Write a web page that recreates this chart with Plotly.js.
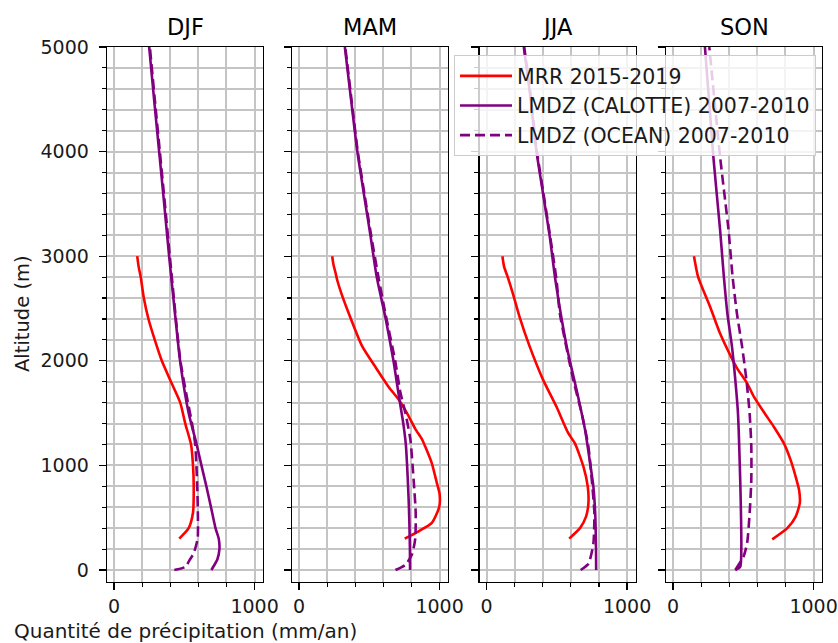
<!DOCTYPE html>
<html>
<head>
<meta charset="utf-8">
<script src="https://cdn.plot.ly/plotly-3.0.1.min.js"></script>
<style>html,body{margin:0;padding:0;background:#fff;}#chart{width:838px;height:643px;}</style>
</head>
<body>
<div id="chart"></div>
<script>
// ---------- data ----------
const seasons = ['DJF', 'MAM', 'JJA', 'SON'];
const seriesNames = ['MRR 2015-2019', 'LMDZ (CALOTTE) 2007-2010', 'LMDZ (OCEAN) 2007-2010'];
const xTickVals = [0, 1000];
const yTickVals = [0, 1000, 2000, 3000, 4000, 5000];

// MRR observations (altitude m, precipitation mm/an)
const mrrAltDJF = [300, 400, 550, 800, 1000, 1200, 1400, 1600, 1800, 2000, 2200, 2400, 2600, 2800, 2900, 3000];
const mrrValDJF = [464, 531, 562, 567, 562, 548, 507, 471, 405, 340, 290, 245, 212, 190, 175, 165];
const mrrAltMAM = [300, 370, 450, 600, 730, 830, 1020, 1180, 1250, 1350, 1500, 1630, 1750, 1940, 2140, 2450, 2650, 2770, 2840, 2920, 3000];
const mrrValMAM = [752, 851, 945, 997, 1000, 981, 945, 898, 875, 827, 768, 709, 638, 544, 449, 355, 300, 272, 260, 245, 236];
const mrrAltJJA = [300, 400, 510, 640, 800, 990, 1210, 1310, 1560, 1820, 2140, 2420, 2650, 2800, 2900, 3000];
const mrrValJJA = [588, 665, 708, 725, 720, 689, 629, 581, 498, 402, 306, 235, 186, 151, 125, 113];
const mrrAltSON = [293, 400, 510, 640, 765, 890, 1050, 1210, 1370, 1510, 1660, 1785, 1930, 2040, 2260, 2520, 2800, 3000];
const mrrValSON = [706, 813, 873, 902, 897, 873, 837, 789, 717, 646, 574, 527, 455, 412, 335, 263, 179, 149];

// LMDZ (CALOTTE)
const calAltDJF = [0, 50, 100, 200, 300, 400, 600, 800, 1000, 1200, 1500, 2000, 2500, 3000, 3500, 4000, 4500, 5000];
const calValDJF = [693, 715, 735, 750, 745, 722, 690, 657, 622, 588, 531, 470, 430, 392, 357, 321, 285, 250];
const calAltMAM = [0, 200, 400, 600, 800, 1000, 1200, 1400, 1600, 1800, 2000, 2400, 2800, 3200, 3600, 4000, 4500, 5000];
const calValMAM = [790, 789, 786, 782, 776, 769, 760, 742, 718, 695, 672, 617, 553, 508, 461, 415, 370, 326];
const calAltJJA = [0, 200, 550, 800, 1020, 1340, 1720, 2140, 2772, 3187, 3600, 4015, 4590, 5000];
const calValJJA = [780, 779, 773, 760, 737, 701, 641, 570, 490, 450, 402, 354, 306, 265];
const calAltSON = [0, 30, 220, 500, 860, 1500, 1820, 2140, 2450, 2800, 3250, 3950, 5000];
const calValSON = [443, 478, 486, 484, 478, 462, 443, 419, 387, 362, 335, 287, 227];

// LMDZ (OCEAN)
const ocnAltDJF = [0, 30, 100, 160, 300, 500, 800, 1000, 1200, 1400, 1650, 2000, 2500, 3000, 3500, 4000, 4500, 5000];
const ocnValDJF = [429, 507, 540, 567, 595, 597, 592, 586, 578, 555, 519, 472, 433, 397, 362, 326, 290, 255];
const ocnAltMAM = [0, 50, 150, 300, 550, 850, 1250, 1500, 1700, 2000, 2450, 2800, 3200, 3600, 4000, 4500, 5000];
const ocnValMAM = [686, 757, 804, 827, 830, 816, 792, 757, 721, 684, 615, 565, 513, 465, 418, 373, 329];
const ocnAltJJA = [0, 60, 250, 550, 860, 1180, 1500, 1820, 2450, 2772, 3187, 3600, 4015, 4590, 5000];
const ocnValJJA = [670, 725, 760, 767, 749, 725, 677, 617, 522, 498, 453, 405, 357, 309, 268];
const ocnAltSON = [0, 130, 255, 540, 860, 1180, 1500, 1820, 2140, 2450, 2800, 3250, 3950, 5000];
const ocnValSON = [443, 502, 527, 545, 557, 557, 545, 522, 491, 455, 424, 395, 335, 258];

const mrrAlt = [mrrAltDJF, mrrAltMAM, mrrAltJJA, mrrAltSON];
const mrrVal = [mrrValDJF, mrrValMAM, mrrValJJA, mrrValSON];
const calAlt = [calAltDJF, calAltMAM, calAltJJA, calAltSON];
const calVal = [calValDJF, calValMAM, calValJJA, calValSON];
const ocnAlt = [ocnAltDJF, ocnAltMAM, ocnAltJJA, ocnAltSON];
const ocnVal = [ocnValDJF, ocnValMAM, ocnValJJA, ocnValSON];

// ---------- layout ----------
const W = 838, H = 643;
const panelLeft = [107, 292, 479.5, 666];
const panelWidth = 156;
const axTop = 47, axBottom = 581.5;
const FONT = 'DejaVu Sans, Liberation Sans, sans-serif';
const gridColor = '#c4c4c4';
const textColor = '#1a1a1a';

const traces = [];
for (let i = 0; i < 4; i++) {
  const xa = i === 0 ? 'x' : 'x' + (i + 1);
  const ya = i === 0 ? 'y' : 'y' + (i + 1);
  traces.push({x: mrrVal[i], y: mrrAlt[i], xaxis: xa, yaxis: ya, mode: 'lines', name: seriesNames[0],
    line: {color: '#ff0000', width: 2.6, shape: 'spline', smoothing: 0.6}, showlegend: i === 0, legendrank: 1});
  traces.push({x: calVal[i], y: calAlt[i], xaxis: xa, yaxis: ya, mode: 'lines', name: seriesNames[1],
    line: {color: '#800080', width: 2.6, shape: 'spline', smoothing: 0.6}, showlegend: i === 0, legendrank: 2});
  traces.push({x: ocnVal[i], y: ocnAlt[i], xaxis: xa, yaxis: ya, mode: 'lines', name: seriesNames[2],
    line: {color: '#800080', width: 2.6, dash: '10px,5px', shape: 'spline', smoothing: 0.6}, showlegend: i === 0, legendrank: 3});
}

const layout = {
  width: W, height: H,
  margin: {l: 0, r: 0, t: 0, b: 0},
  paper_bgcolor: '#ffffff', plot_bgcolor: '#ffffff',
  font: {family: FONT, size: 19, color: textColor},
  showlegend: true,
  legend: {
    x: 454 / W, y: 1 - 55 / H, xanchor: 'left', yanchor: 'top',
    bgcolor: 'rgba(255,255,255,0.8)', bordercolor: '#cccccc', borderwidth: 1,
    itemwidth: 52, tracegroupgap: 0,
    font: {family: FONT, size: 20.5, color: textColor}
  },
  annotations: [],
};

for (let i = 0; i < 4; i++) {
  const sfx = i === 0 ? '' : String(i + 1);
  const x0 = panelLeft[i] / W, x1 = (panelLeft[i] + panelWidth) / W;
  layout['xaxis' + sfx] = {
    domain: [x0, x1], anchor: 'y' + sfx, range: [-50, 1060],
    tickmode: 'array', tickvals: xTickVals, ticktext: xTickVals.map(String),
    ticks: 'outside', ticklen: 7, tickwidth: 1.3, tickcolor: '#000',
    showline: true, linecolor: '#000', linewidth: 1.3, mirror: true,
    showgrid: true, gridcolor: gridColor, gridwidth: 2, zeroline: false,
    tickfont: {family: FONT, size: 19, color: textColor},
    minor: {tick0: 0, dtick: 200, ticks: 'outside', ticklen: 4, tickwidth: 1.1, tickcolor: '#000',
            showgrid: true, gridcolor: gridColor, gridwidth: 2},
    fixedrange: true
  };
  layout['yaxis' + sfx] = {
    domain: [1 - axBottom / H, 1 - axTop / H], anchor: 'x' + sfx, range: [-110, 5000],
    tickmode: 'array', tickvals: yTickVals, ticktext: yTickVals.map(String),
    showticklabels: i === 0, ticklabelstandoff: 6,
    ticks: 'outside', ticklen: 7, tickwidth: 1.3, tickcolor: '#000',
    showline: true, linecolor: '#000', linewidth: 1.3, mirror: true,
    showgrid: true, gridcolor: gridColor, gridwidth: 2, zeroline: false,
    tickfont: {family: FONT, size: 19, color: textColor},
    minor: {tick0: 0, dtick: 200, ticks: 'outside', ticklen: 4, tickwidth: 1.1, tickcolor: '#000',
            showgrid: true, gridcolor: gridColor, gridwidth: 2},
    fixedrange: true
  };
  if (i > 0) layout['yaxis' + sfx].matches = 'y';
  layout.annotations.push({
    text: seasons[i], xref: 'paper', yref: 'paper',
    x: (panelLeft[i] + panelWidth / 2) / W, y: 1 - 27 / H,
    xanchor: 'center', yanchor: 'middle', showarrow: false,
    font: {family: FONT, size: 22.5, color: '#000'}
  });
}

layout.annotations.push({
  text: 'Altitude (m)', xref: 'paper', yref: 'paper', x: 22 / W, y: 1 - 314 / H,
  xanchor: 'center', yanchor: 'middle', textangle: -90, showarrow: false,
  font: {family: FONT, size: 19.5, color: textColor}
});
layout.annotations.push({
  text: 'Quantité de précipitation (mm/an)', xref: 'paper', yref: 'paper',
  x: (panelLeft[0] + panelWidth / 2) / W, y: 1 - 631 / H,
  xanchor: 'center', yanchor: 'middle', showarrow: false,
  font: {family: FONT, size: 20, color: textColor}
});

Plotly.newPlot('chart', traces, layout, {staticPlot: true, displayModeBar: false});
</script>
</body>
</html>
